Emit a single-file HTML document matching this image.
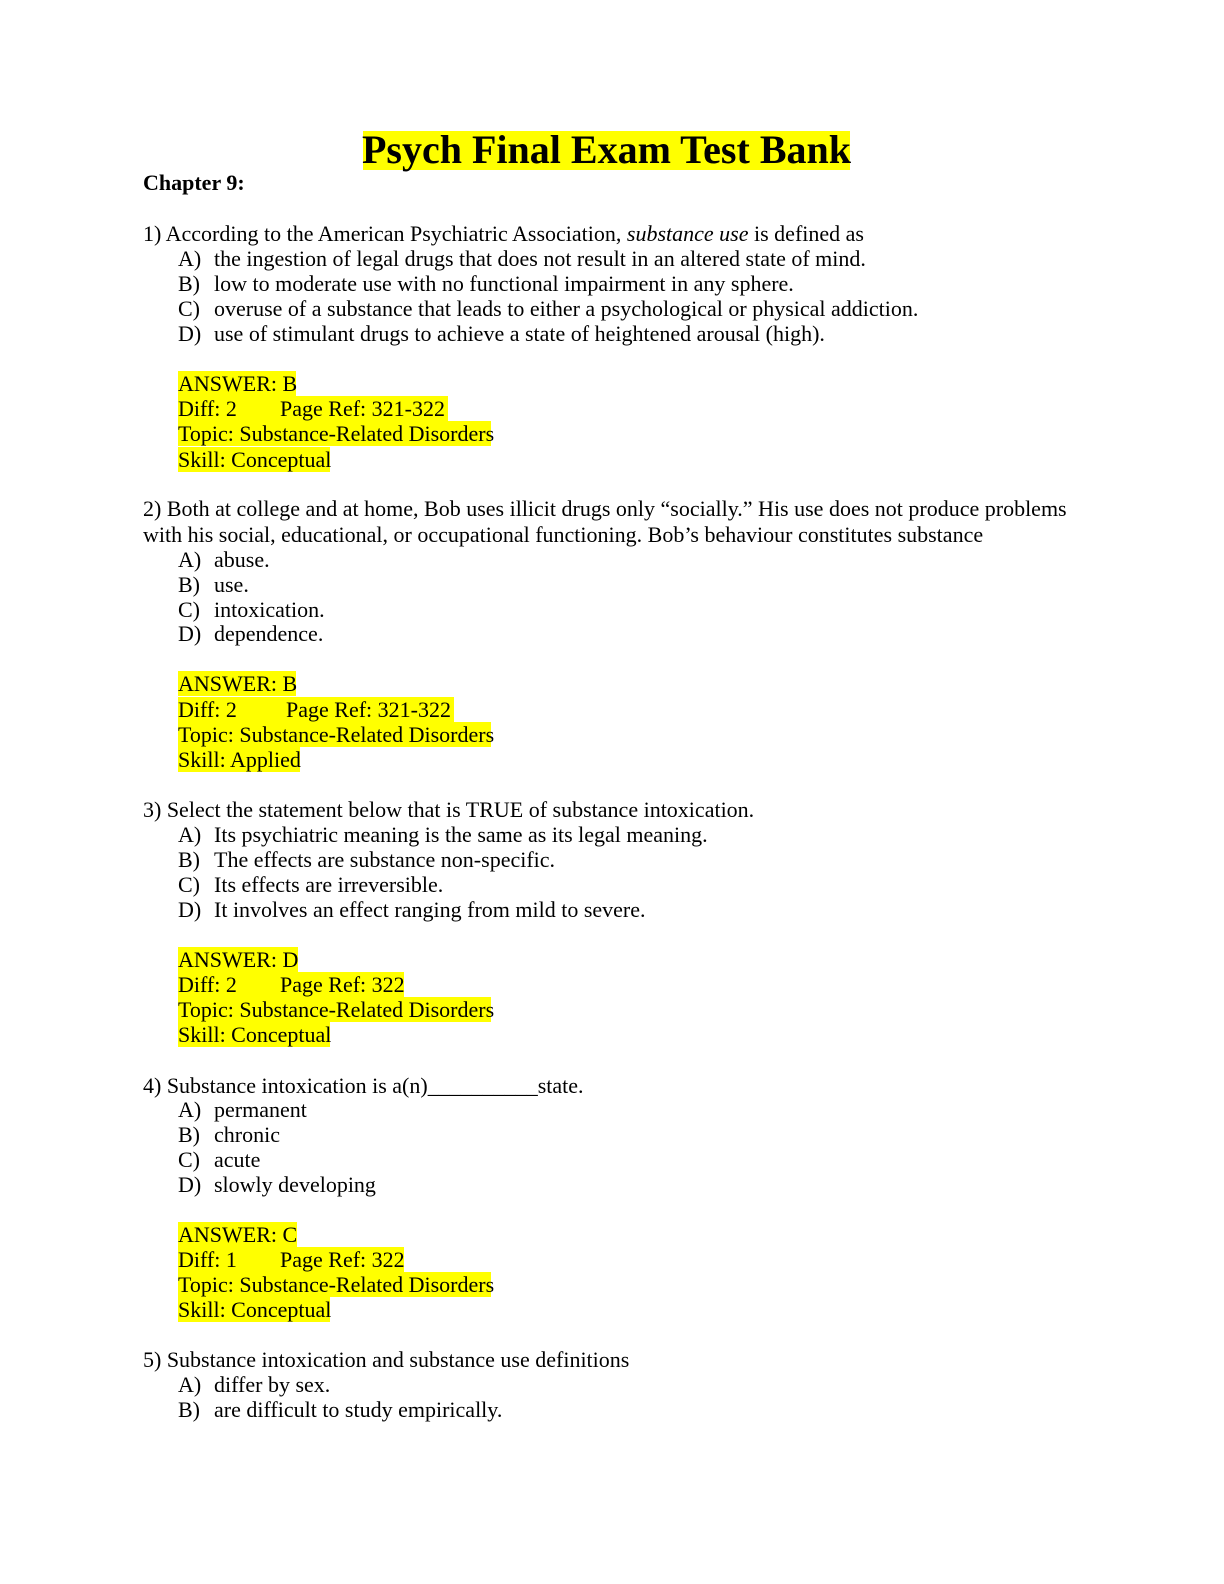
<!DOCTYPE html>
<html><head><meta charset="utf-8"><style>
body{margin:0;width:1224px;height:1584px;background:#fff;position:relative;font-family:"Liberation Serif",serif;color:#000;}
.l{position:absolute;left:143px;height:25px;line-height:25px;font-size:22px;white-space:nowrap;}
.o{left:178px;}
.o b{font-weight:normal;position:absolute;left:0;}
.o span.t{position:absolute;left:36px;}
.h{background:#ffff00;display:inline-block;height:25px;}
.pr{position:absolute;}
</style></head><body>
<div style="position:absolute;left:363px;top:131px;width:487px;height:39px;background:#ffff00"></div>
<div style="position:absolute;left:353px;top:127px;width:507px;text-align:center;font-size:40px;font-weight:bold;line-height:46px;white-space:nowrap">Psych Final Exam Test Bank</div>
<div class="l" style="top:170px;font-weight:bold">Chapter 9:</div>

<div class="l" style="top:221px">1) According to the American Psychiatric Association, <i>substance use</i> is defined as</div>
<div class="l o" style="top:246px"><b>A)</b><span class="t">the ingestion of legal drugs that does not result in an altered state of mind.</span></div>
<div class="l o" style="top:271px"><b>B)</b><span class="t">low to moderate use with no functional impairment in any sphere.</span></div>
<div class="l o" style="top:296px"><b>C)</b><span class="t">overuse of a substance that leads to either a psychological or physical addiction.</span></div>
<div class="l o" style="top:321px"><b>D)</b><span class="t">use of stimulant drugs to achieve a state of heightened arousal (high).</span></div>
<div class="l" style="left:178px;top:371px"><span class="h" style="width:118px">ANSWER: B</span></div>
<div class="l" style="left:178px;top:396px"><span class="h" style="width:270px">Diff: 2<span class="pr" style="left:102px">Page Ref: 321-322</span></span></div>
<div class="l" style="left:178px;top:421px"><span class="h" style="width:313px">Topic: Substance-Related Disorders</span></div>
<div class="l" style="left:178px;top:447px"><span class="h" style="width:152px">Skill: Conceptual</span></div>

<div class="l" style="top:496px">2) Both at college and at home, Bob uses illicit drugs only “socially.” His use does not produce problems</div>
<div class="l" style="top:522px">with his social, educational, or occupational functioning. Bob’s behaviour constitutes substance</div>
<div class="l o" style="top:547px"><b>A)</b><span class="t">abuse.</span></div>
<div class="l o" style="top:572px"><b>B)</b><span class="t">use.</span></div>
<div class="l o" style="top:597px"><b>C)</b><span class="t">intoxication.</span></div>
<div class="l o" style="top:621px"><b>D)</b><span class="t">dependence.</span></div>
<div class="l" style="left:178px;top:671px"><span class="h" style="width:118px">ANSWER: B</span></div>
<div class="l" style="left:178px;top:697px"><span class="h" style="width:276px">Diff: 2<span class="pr" style="left:108px">Page Ref: 321-322</span></span></div>
<div class="l" style="left:178px;top:722px"><span class="h" style="width:313px">Topic: Substance-Related Disorders</span></div>
<div class="l" style="left:178px;top:747px"><span class="h" style="width:122px">Skill: Applied</span></div>

<div class="l" style="top:797px">3) Select the statement below that is TRUE of substance intoxication.</div>
<div class="l o" style="top:822px"><b>A)</b><span class="t">Its psychiatric meaning is the same as its legal meaning.</span></div>
<div class="l o" style="top:847px"><b>B)</b><span class="t">The effects are substance non-specific.</span></div>
<div class="l o" style="top:872px"><b>C)</b><span class="t">Its effects are irreversible.</span></div>
<div class="l o" style="top:897px"><b>D)</b><span class="t">It involves an effect ranging from mild to severe.</span></div>
<div class="l" style="left:178px;top:947px"><span class="h" style="width:120px">ANSWER: D</span></div>
<div class="l" style="left:178px;top:972px"><span class="h" style="width:226px">Diff: 2<span class="pr" style="left:102px">Page Ref: 322</span></span></div>
<div class="l" style="left:178px;top:997px"><span class="h" style="width:313px">Topic: Substance-Related Disorders</span></div>
<div class="l" style="left:178px;top:1022px"><span class="h" style="width:152px">Skill: Conceptual</span></div>

<div class="l" style="top:1073px">4) Substance intoxication is a(n)__________state.</div>
<div class="l o" style="top:1097px"><b>A)</b><span class="t">permanent</span></div>
<div class="l o" style="top:1122px"><b>B)</b><span class="t">chronic</span></div>
<div class="l o" style="top:1147px"><b>C)</b><span class="t">acute</span></div>
<div class="l o" style="top:1172px"><b>D)</b><span class="t">slowly developing</span></div>
<div class="l" style="left:178px;top:1222px"><span class="h" style="width:119px">ANSWER: C</span></div>
<div class="l" style="left:178px;top:1247px"><span class="h" style="width:226px">Diff: 1<span class="pr" style="left:102px">Page Ref: 322</span></span></div>
<div class="l" style="left:178px;top:1272px"><span class="h" style="width:313px">Topic: Substance-Related Disorders</span></div>
<div class="l" style="left:178px;top:1297px"><span class="h" style="width:152px">Skill: Conceptual</span></div>

<div class="l" style="top:1347px">5) Substance intoxication and substance use definitions</div>
<div class="l o" style="top:1372px"><b>A)</b><span class="t">differ by sex.</span></div>
<div class="l o" style="top:1397px"><b>B)</b><span class="t">are difficult to study empirically.</span></div>
</body></html>
